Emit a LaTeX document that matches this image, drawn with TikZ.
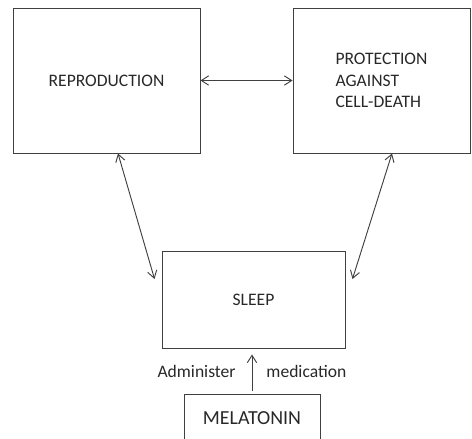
\documentclass[tikz,border=0pt]{standalone}
\usepackage{fontspec}
\setmainfont{Carlito}
\usepackage{xcolor}
\definecolor{lnGray}{RGB}{64,64,64}
\definecolor{txGray}{RGB}{40,40,40}
\usetikzlibrary{arrows.meta,positioning}

\begin{document}
\begin{tikzpicture}[
  x=0.03cm, y=-0.03cm,
  every node/.style={font=\fontsize{15}{18.5}\selectfont, text=txGray},
  boxnode/.style={draw=lnGray, line width=0.8pt, align=left, inner sep=0pt},
  link/.style={draw=lnGray, line width=0.8pt,
               {Straight Barb[length=2.2mm,width=2.8mm]}-{Straight Barb[length=2.2mm,width=2.8mm]}},
  feed/.style={draw=lnGray, line width=0.8pt, -{Straight Barb[length=2.2mm,width=2.8mm]}},
]
  \useasboundingbox (0,0) rectangle (472,438);
  \clip (0,0) rectangle (472,438);
  % Box 1
  \node[boxnode, minimum width=5.61cm, minimum height=4.35cm] (repro) at (106.5,80.5) {REPRODUCTION};
  % Box 2
  \node[boxnode, minimum width=5.31cm, minimum height=4.35cm] (prot) at (381.5,80.5) {PROTECTION\\AGAINST\\CELL-DEATH};
  % Box 3
  \node[boxnode, minimum width=5.49cm, minimum height=2.91cm] (sleep) at (253.5,299.5) {SLEEP};
  % Box 4
  \node[boxnode, minimum width=4.08cm, minimum height=1.4cm, font=\fontsize{17}{20}\selectfont] (mela) at (252,418) {MELATONIN};

  % links
  \draw[link] (repro.east) -- (prot.west);
  \draw[link] ([xshift=0.345cm]repro.south) -- ([xshift=-0.21cm,yshift=0.615cm]sleep.west);
  \draw[link] ([xshift=0.315cm]prot.south) -- ([xshift=0.21cm,yshift=0.615cm]sleep.east);
  \draw[feed, shorten <=0.09cm, shorten >=0.18cm] (mela.north) -- (mela.north |- sleep.south)
    node[midway, left, inner sep=0pt, xshift=-0.48cm] (admin) {Administer}
    node[midway, right, inner sep=0pt, xshift=0.42cm] (medic) {medication};
\end{tikzpicture}
\end{document}
